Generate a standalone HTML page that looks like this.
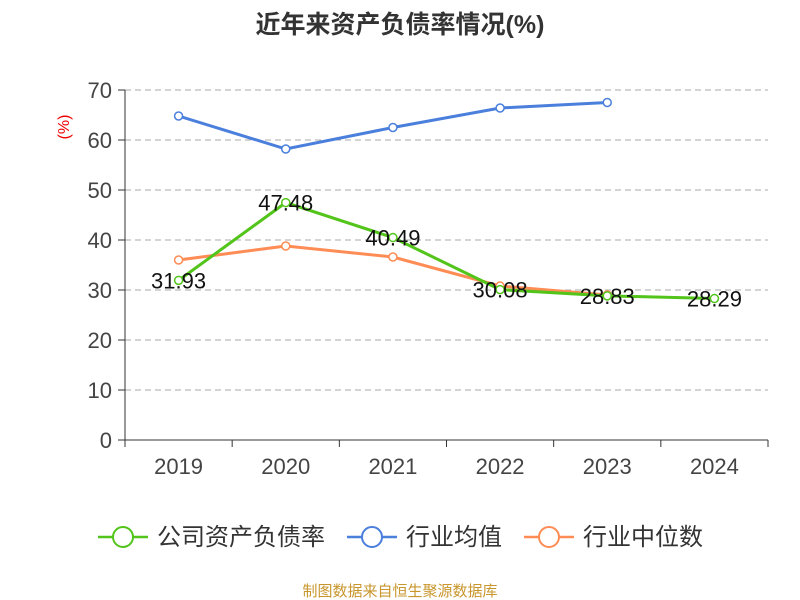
<!DOCTYPE html>
<html><head><meta charset="utf-8"><style>
body{margin:0;background:#fff;}
svg{display:block;font-family:"Liberation Sans","Noto Sans CJK SC",sans-serif;}
</style></head><body>
<svg id="chart" width="800" height="600">
<text x="400" y="33" text-anchor="middle" font-size="25" font-weight="bold" fill="#333">近年来资产负债率情况(%)</text>
<text x="0" y="0" transform="translate(69,127) rotate(-90)" text-anchor="middle" font-size="16" fill="#e00">(%)</text>
<g id="grid"></g><g id="axes"></g><g id="series"></g>
<g>
<g><line x1="98" y1="537" x2="148" y2="537" stroke="#52c41a" stroke-width="2.5"/><circle cx="123" cy="537" r="10" fill="#fff" stroke="#52c41a" stroke-width="2"/><text x="157" y="545" font-size="24" fill="#333">公司资产负债率</text></g>
<g><line x1="347" y1="537" x2="397" y2="537" stroke="#4a7fdc" stroke-width="2.5"/><circle cx="372" cy="537" r="10" fill="#fff" stroke="#4a7fdc" stroke-width="2"/><text x="406" y="545" font-size="24" fill="#333">行业均值</text></g>
<g><line x1="524" y1="537" x2="574" y2="537" stroke="#ff8c55" stroke-width="2.5"/><circle cx="549" cy="537" r="10" fill="#fff" stroke="#ff8c55" stroke-width="2"/><text x="583" y="545" font-size="24" fill="#333">行业中位数</text></g>
</g>
<text x="400" y="596" text-anchor="middle" font-size="15" fill="#c8962c">制图数据来自恒生聚源数据库</text>
</svg>
<script>
const categories=["2019","2020","2021","2022","2023","2024"];
const companyValues=[31.93,47.48,40.49,30.08,28.83,28.29];
const industryAvg=[64.8,58.2,62.5,66.4,67.5,null];
const industryMedian=[36.0,38.8,36.6,30.8,29.0,null];
const yTicks=[0,10,20,30,40,50,60,70];
const NS="http://www.w3.org/2000/svg";
const X0=125,X1=768,Y0=440,Y1=90,YMAX=70;
const band=(X1-X0)/categories.length;
const xs=i=>X0+band*(i+0.5);
const ys=v=>Y0-(v/YMAX)*(Y0-Y1);
function mk(tag,attrs,parent,txt){const e=document.createElementNS(NS,tag);for(const k in attrs)e.setAttribute(k,attrs[k]);if(txt!=null)e.textContent=txt;parent.appendChild(e);return e;}
const grid=document.getElementById('grid'),axes=document.getElementById('axes'),series=document.getElementById('series');
yTicks.forEach(t=>{
  if(t>0){const g=mk('line',{x1:X0,x2:X1,y1:ys(t),y2:ys(t),stroke:'#aaa','stroke-dasharray':'6,4'},grid);
  
  }
  const tk=mk('line',{x1:X0-7,x2:X0,y1:ys(t),y2:ys(t),stroke:'#333'},axes);
  
  
  const l=mk('text',{x:X0-13,y:ys(t)+8,'text-anchor':'end','font-size':22,fill:'#444'},axes,t);
  
  
});
const ya=mk('line',{x1:X0,x2:X0,y1:Y1,y2:Y0,stroke:'#333'},axes);


const xa=mk('line',{x1:X0,x2:X1,y1:Y0,y2:Y0,stroke:'#333'},axes);


for(let i=0;i<=categories.length;i++){const t=mk('line',{x1:X0+band*i,x2:X0+band*i,y1:Y0,y2:Y0+7,stroke:'#333'},axes);

}
categories.forEach((c,i)=>{const l=mk('text',{x:xs(i),y:Y0+34,'text-anchor':'middle','font-size':22,fill:'#444'},axes,c);

});
function drawLine(vals,color,name,labels){
  const pts=[];vals.forEach((v,i)=>{if(v!=null)pts.push([xs(i),ys(v),v]);});
  const p=mk('polyline',{points:pts.map(p=>p[0]+','+p[1]).join(' '),fill:'none',stroke:color,'stroke-width':3},series);
  
  
  pts.forEach(q=>{const c=mk('circle',{cx:q[0],cy:q[1],r:4,fill:'#fff',stroke:color,'stroke-width':1.5},series);
  
  });
  if(labels)pts.forEach(q=>{const t=mk('text',{x:q[0],y:q[1]+8,'text-anchor':'middle','font-size':22,fill:'#111'},series,q[2].toFixed(2));
  
  });
}
drawLine(industryAvg,'#4a7fdc','industry-avg',false);
drawLine(industryMedian,'#ff8c55','industry-median',false);
drawLine(companyValues,'#52c41a','company',true);
</script>
</body></html>
